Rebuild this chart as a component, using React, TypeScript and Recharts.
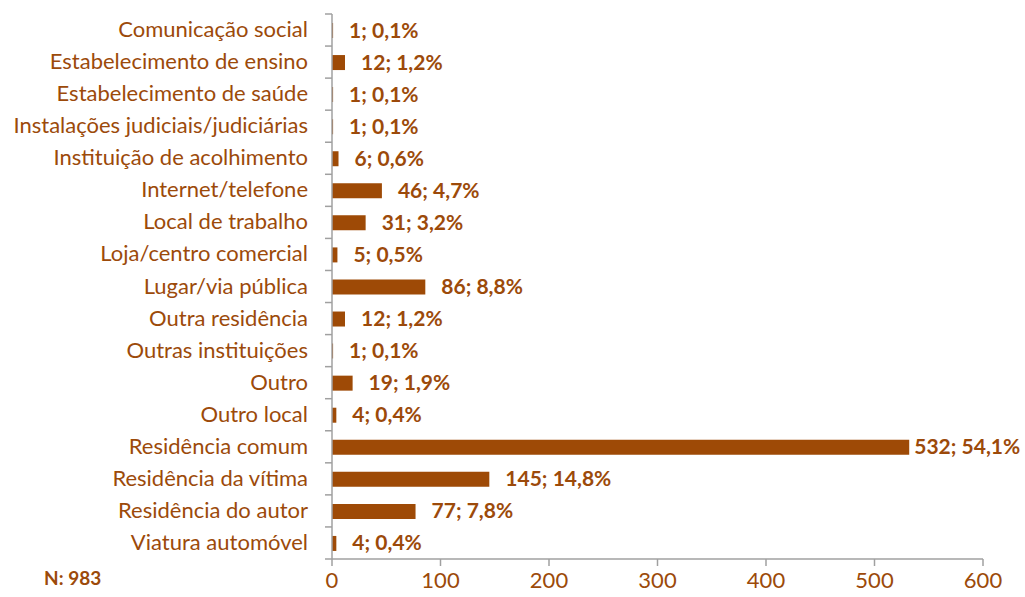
import { BarChart, Bar, XAxis, YAxis, LabelList } from 'recharts'

const categories = [
  'Comunicação social',
  'Estabelecimento de ensino',
  'Estabelecimento de saúde',
  'Instalações judiciais/judiciárias',
  'Instituição de acolhimento',
  'Internet/telefone',
  'Local de trabalho',
  'Loja/centro comercial',
  'Lugar/via pública',
  'Outra residência',
  'Outras instituições',
  'Outro',
  'Outro local',
  'Residência comum',
  'Residência da vítima',
  'Residência do autor',
  'Viatura automóvel',
]
const counts = [1, 12, 1, 1, 6, 46, 31, 5, 86, 12, 1, 19, 4, 532, 145, 77, 4]
const percents = ['0,1', '1,2', '0,1', '0,1', '0,6', '4,7', '3,2', '0,5', '8,8', '1,2', '0,1', '1,9', '0,4', '54,1', '14,8', '7,8', '0,4']
const xTicks = [0, 100, 200, 300, 400, 500, 600]
const total = 983

const data = categories.map((c, i) => ({ name: c, value: counts[i], label: `${counts[i]}; ${percents[i]}%` }))

const BROWN = '#9C4A0A'
const BAR = '#9E4A06'
const GRID = '#A0A0A0'
const FONT = 'Lato, "Open Sans", sans-serif'

const W = 1025
const H = 597
const TOP = 14
const BOTTOM = 38
const LEFT = 332
const RIGHT = 42
const BAND = (H - TOP - BOTTOM) / categories.length

function CatTick(props: any) {
  const { x, y, payload, index } = props
  const ax = LEFT
  return (
    <g>
      <line x1={ax - 7} x2={ax} y1={y - BAND / 2} y2={y - BAND / 2} stroke={GRID} strokeWidth={1.5} />
      {index === categories.length - 1 && (
        <line x1={ax - 7} x2={ax} y1={y + BAND / 2} y2={y + BAND / 2} stroke={GRID} strokeWidth={1.5} />
      )}
      <text x={x - 16} y={y} dy={7} textAnchor="end" fill={BROWN} fontSize={22} fontFamily={FONT}>
        {payload.value}
      </text>
    </g>
  )
}

function ValueLabel(props: any) {
  const { x, y, width, height, value, index } = props
  const off = counts[index] > 500 ? 5 : 16
  return (
    <text x={x + width + off} y={y + height / 2} dy={7} fill={BROWN} fontSize={21} fontWeight={700} fontFamily={FONT}>
      {value}
    </text>
  )
}

export default function App() {
  return (
    <div style={{ position: 'absolute', left: 0, top: 0, width: W, height: H, background: '#fff' }}>
      <BarChart
        width={W}
        height={H}
        data={data}
        layout="vertical"
        margin={{ top: TOP, right: RIGHT, bottom: 0, left: 0 }}
        barSize={15}
      >
        <XAxis
          type="number"
          domain={[0, 600]}
          ticks={xTicks}
          height={BOTTOM}
          axisLine={{ stroke: GRID, strokeWidth: 1.5 }}
          tickLine={{ stroke: GRID, strokeWidth: 1.5 }}
          tickSize={7}
          tickMargin={6}
          tick={{ fill: BROWN, fontSize: 22, fontFamily: FONT }}
        />
        <YAxis
          type="category"
          dataKey="name"
          width={LEFT}
          axisLine={{ stroke: GRID, strokeWidth: 1.5 }}
          tickLine={false}
          interval={0}
          tick={<CatTick />}
        />
        <Bar dataKey="value" fill={BAR} isAnimationActive={false}>
          <LabelList dataKey="label" content={<ValueLabel />} />
        </Bar>
      </BarChart>
      <div
        style={{
          position: 'absolute',
          left: 44,
          top: 566,
          color: BROWN,
          fontFamily: FONT,
          fontWeight: 700,
          fontSize: 19,
        }}
      >
        N: {total}
      </div>
    </div>
  )
}
